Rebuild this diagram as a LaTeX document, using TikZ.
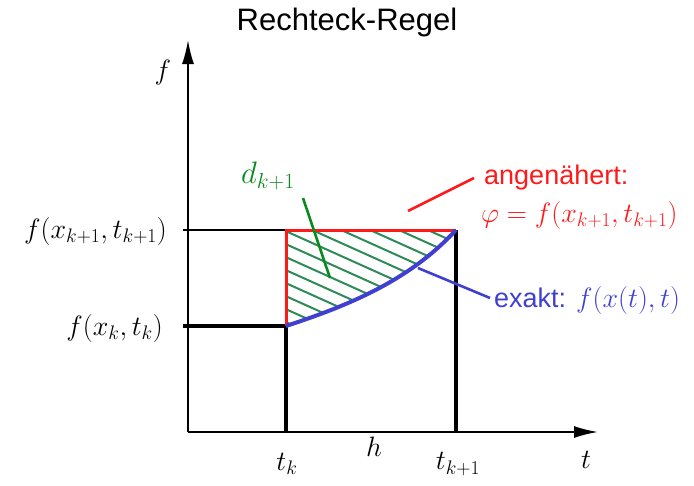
\RequirePackage{fix-cm}
\documentclass[tikz,border=0pt]{standalone}
\usepackage{fontspec}
\setmainfont{Liberation Sans}
\usepackage{amsmath,amssymb}
\usepackage{xcolor}
\usepackage{tikz}
\usetikzlibrary{arrows.meta, positioning, calc}
\definecolor{rrRed}{HTML}{FF1A1A}
\definecolor{rrBlue}{HTML}{4040D0}
\definecolor{rrGreen}{HTML}{0A8A1E}
\definecolor{rrHatch}{HTML}{2E8B57}
\tikzset{
  rraxis/.style={draw=black, line width=1.8pt, -{Latex[length=24pt,width=12pt]}},
  rrbar/.style={draw=black, line width=3.2pt},
  rrthin/.style={draw=black, line width=1.2pt},
  rrapprox/.style={draw=rrRed, line width=3pt},
  rrexact/.style={draw=rrBlue, line width=4pt},
  rrhatch/.style={draw=rrHatch, line width=2pt},
  rrpoint/.style={line width=2.6pt},
  rrmath/.style={font=\fontsize{28}{32}\selectfont, inner sep=1pt},
  rrtext/.style={font=\fontsize{27}{31}\selectfont, inner sep=1pt},
}

\begin{document}
\begin{tikzpicture}[x=1pt,y=-1pt]
\useasboundingbox (0,0) rectangle (694,485);
% axes and grid points
\coordinate (origin) at (188,432);
\coordinate (yend) at (188,40);
\coordinate (xend) at (598,432);
\coordinate (ka) at (286,326);
\coordinate (kb) at (456,230);
\coordinate (kc) at (286,230);
\coordinate (ta) at (286,432);
\coordinate (tb) at (456,432);
\coordinate (fa) at (183,326);
\coordinate (fb) at (183,230);

% hatched area d_{k+1}
\begin{scope}
\clip (ka) -- (kc) -- (kb) .. controls (410,280) and (350,305) .. (ka);
\foreach \y in {120,133,...,340}
  \draw[rrhatch] (270,\y) -- ++(220,99);
\end{scope}

\draw[rraxis] (origin) -- (yend);
\draw[rraxis] (origin) -- (xend);
\draw[rrthin] (fb) -- (kc);
\draw[rrbar] (fa) -- (ka) -- (ta);
\draw[rrbar] (kb) -- (tb);
\draw[rrapprox] (ka) -- (kc) -- (kb);
\draw[rrexact] (ka) .. controls (350,305) and (410,280) .. (kb);

% labels
\node[rrtext, font=\fontsize{31}{35}\selectfont] (title) at (347,22) {Rechteck-Regel};
\node[rrmath] (flbl) at (163,72) {$f$};
\node[rrmath, anchor=east] (fk1lbl) at (168,231) {$f(x_{k+1},t_{k+1})$};
\node[rrmath, anchor=east] (fklbl) at (164,328) {$f(x_k,t_k)$};
\node[rrmath] (tklbl) at (287,464) {$t_k$};
\node[rrmath] (hlbl) at (374,447) {$h$};
\node[rrmath] (tk1lbl) at (458,464) {$t_{k+1}$};
\node[rrmath] (tlbl) at (586,460) {$t$};
\node[rrmath, text=rrGreen, font=\fontsize{31}{35}\selectfont] (dlbl) at (268,176) {$d_{k+1}$};
\node[rrtext, text=rrRed, anchor=west] (applbl) at (483,178) {angenähert:};
\node[rrmath, text=rrRed, anchor=west] (philbl) at (480,215) {$\varphi=f(x_{k+1},t_{k+1})$};
\node[rrtext, text=rrBlue, anchor=west] (exlbl) at (493,300) {exakt: {\fontsize{28}{32}\selectfont$f(x(t),t)$}};

% pointers
\coordinate (dtip) at (330,278);
\coordinate (dtail) at (303,198);
\coordinate (apptip) at (408,211);
\coordinate (apptail) at (474,178);
\coordinate (extip) at (418,268);
\coordinate (extail) at (490,298);
\draw[rrpoint, rrGreen] (dtail) -- (dtip);
\draw[rrpoint, rrRed] (apptip) -- (apptail);
\draw[rrpoint, rrBlue] (extip) -- (extail);
\end{tikzpicture}
\end{document}
